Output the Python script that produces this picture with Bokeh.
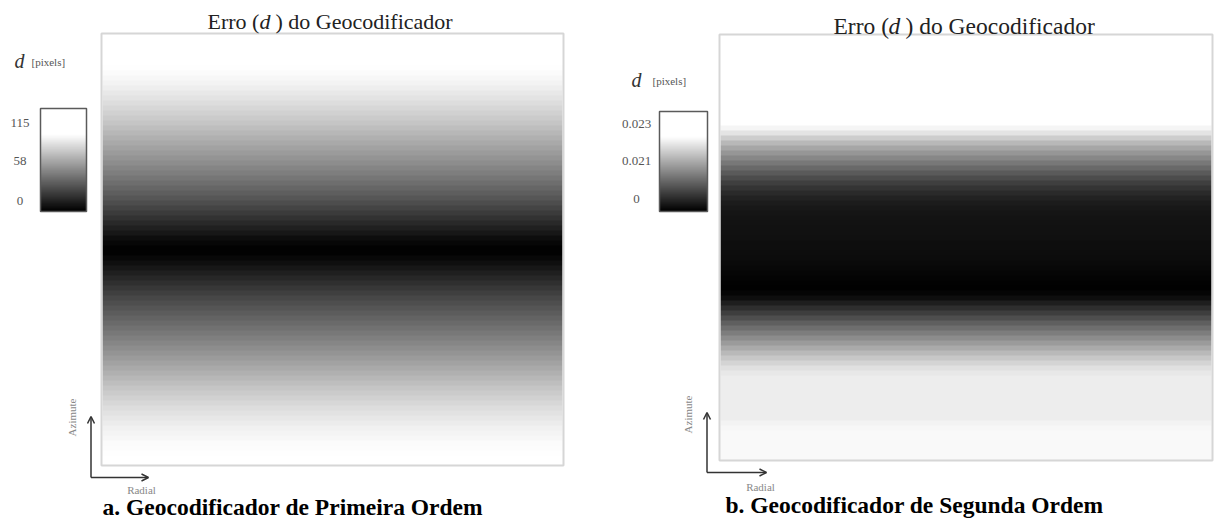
import numpy as np
from bokeh.plotting import figure
from bokeh.models import LinearColorMapper, Arrow, OpenHead, Range1d
from bokeh.core.properties import value
from bokeh.embed import file_html
from bokeh.resources import INLINE

# ---------------- data ----------------
title_parts = ["Erro (", "d", ") do Geocodificador"]
captions = ["a. Geocodificador de Primeira Ordem", "b. Geocodificador de Segunda Ordem"]
legend_unit = "[pixels]"
axis_names = ["Azimute", "Radial"]

# error d [pixels] along the azimuth rows (top -> bottom); constant along the radial direction
d_first = [115, 113, 110, 106, 101, 95,
           85.9, 84.9, 83.5, 81.9, 80.2, 78.5, 76.8, 74.7, 72.7, 70.7, 68.7, 66.6, 64.3,
           61.9, 59.5, 57.2, 54.8, 52.4, 50.1, 47.7, 45.0, 42.6, 39.9, 37.2, 34.5, 31.8,
           29.1, 26.0, 23.0, 20.0, 16.9, 13.9, 10.8, 7.8, 4.7, 2.4, 0.7,
           1.0, 2.7, 5.1, 7.8, 10.5, 13.2, 15.9, 18.6, 21.3, 24.0, 26.4, 28.8, 31.1, 33.5,
           35.9, 38.2, 40.6, 43.0, 45.3, 47.7, 50.1, 52.4, 54.8, 57.2, 59.5, 61.9, 64.3,
           66.6, 68.7, 70.7, 72.7, 74.7, 76.4, 78.1, 79.8, 81.2, 82.5, 83.5, 84.6, 85.2,
           85.9, 87, 89]
d_second = [0.0230, 0.0229, 0.0228, 0.0227, 0.0225, 0.0223, 0.0221, 0.0219, 0.0216,
            0.0213, 0.0210, 0.0206, 0.0202, 0.0198, 0.0193, 0.0188, 0.0183, 0.0178,
            0.01657, 0.01542, 0.01387, 0.01245, 0.01123, 0.01015, 0.00913, 0.00812,
            0.00710, 0.00609, 0.00514, 0.00426, 0.00352, 0.00284, 0.00230, 0.00189,
            0.00162, 0.00142, 0.00129, 0.00122, 0.00115, 0.00115, 0.00108, 0.00101,
            0.00095, 0.00088, 0.00081, 0.00068, 0.00054, 0.00041, 0.00027, 0.00014,
            0.00007, 0.00034, 0.00101, 0.00203, 0.00311, 0.00419, 0.00528, 0.00643,
            0.00744, 0.00846, 0.00947, 0.01049, 0.01150, 0.01251, 0.01346, 0.01434,
            0.01515, 0.01569, 0.01597,
            0.01603, 0.01603, 0.01603, 0.01603, 0.01603, 0.01603, 0.01603, 0.01603,
            0.01644, 0.01671, 0.01678, 0.01678, 0.01678, 0.01678, 0.01678, 0.01678]
d_max = [115.0, 0.023]
ticks_first = ["115", "58", "0"]
ticks_second = ["0.023", "0.021", "0"]

# ---------------- figure (data coords == page pixels, y measured downward) ----------------
W, H = 1220, 522
p = figure(width=W, height=H, x_range=Range1d(0, W), y_range=Range1d(0, H),
           output_backend="svg", toolbar_location=None, min_border=0)
p.axis.visible = False
p.grid.visible = False
p.outline_line_color = None
p.background_fill_color = "white"


def Y(y):
    return H - y


greys = ["#%02x%02x%02x" % (i, i, i) for i in range(256)]
SERIF = value("Liberation Serif")
ROW = 5  # pixel height of one azimuth row

panels = [
    dict(data=d_first, dmax=d_max[0], ticks=ticks_first, img_top=35,
         box=(101, 33, 563, 465), cbar=(40, 108, 86, 211), tick_x=19.5, tick_y=[122, 160, 200],
         leg_d=(14, 60), leg_u=(31, 61), title_x=[207, 259, 275], title_y=21, title_fs="22px",
         origin=(90.5, 477), v_top=416, h_end=148, azi=(71, 417), rad=(141, 489),
         cap=(102, 506)),
    dict(data=d_second, dmax=d_max[1], ticks=ticks_second, img_top=35,
         box=(719, 34, 1212, 460), cbar=(659, 111, 707, 211), tick_x=636, tick_y=[123, 160, 198],
         leg_d=(631, 79), leg_u=(652, 80), title_x=[833, 888, 905], title_y=25, title_fs="23.5px",
         origin=(706.5, 472), v_top=412, h_end=766, azi=(687, 414), rad=(760, 486),
         cap=(725, 504)),
]

for i, pn in enumerate(panels):
    mapper = LinearColorMapper(palette=greys, low=0, high=0.75 * pn["dmax"], high_color="#ffffff")
    x0, y0, x1, y1 = pn["box"]
    img = np.array(pn["data"][::-1], dtype=float).reshape(-1, 1)
    dh = img.shape[0] * ROW
    top = pn["img_top"]
    p.image(image=[img], x=x0 + 1, y=Y(top + dh), dw=(x1 - x0 - 2), dh=dh,
            color_mapper=mapper)
    p.quad(left=[x0], right=[x1], top=[Y(y0)], bottom=[Y(y1)], fill_color=None,
           line_color="#d6d6d6", line_width=2)

    # colour bar
    cx0, cy0, cx1, cy1 = pn["cbar"]
    ramp = np.linspace(0, pn["dmax"], 150).reshape(-1, 1)
    p.image(image=[ramp], x=cx0, y=Y(cy1), dw=cx1 - cx0, dh=cy1 - cy0, color_mapper=mapper)
    p.quad(left=[cx0], right=[cx1], top=[Y(cy0)], bottom=[Y(cy1)], fill_color=None,
           line_color="#5a5a5a", line_width=1.5)
    p.text(x=[pn["tick_x"]] * 3, y=[Y(v) for v in pn["tick_y"]], text=pn["ticks"],
           text_font=SERIF, text_font_size=value("13px"), text_color="#555555",
           text_align="center", text_baseline="middle")

    # legend label
    p.text(x=[pn["leg_d"][0]], y=[Y(pn["leg_d"][1])], text=["d"], text_font=SERIF,
           text_font_style="italic", text_font_size=value("20px"), text_color="#333333",
           text_align="left", text_baseline="middle")
    p.text(x=[pn["leg_u"][0]], y=[Y(pn["leg_u"][1])], text=[legend_unit], text_font=SERIF,
           text_font_size=value("11px"), text_color="#555555",
           text_align="left", text_baseline="middle")

    # title
    tx = pn["title_x"]
    ty = Y(pn["title_y"])
    p.text(x=[tx[0], tx[2]], y=[ty, ty], text=[title_parts[0], title_parts[2]], text_font=SERIF,
           text_font_size=value(pn["title_fs"]), text_color="#222222",
           text_align="left", text_baseline="middle")
    p.text(x=[tx[1]], y=[ty], text=[title_parts[1]], text_font=SERIF, text_font_style="italic",
           text_font_size=value(pn["title_fs"]), text_color="#222222",
           text_align="left", text_baseline="middle")

    # direction arrows
    ox, oy = pn["origin"]
    for xe, ye in [(ox, pn["v_top"]), (pn["h_end"], oy)]:
        p.add_layout(Arrow(end=OpenHead(size=7, line_color="#333333", line_width=1.5),
                           x_start=ox, y_start=Y(oy), x_end=xe, y_end=Y(ye),
                           line_color="#333333", line_width=1.5))
    p.text(x=[pn["azi"][0]], y=[Y(pn["azi"][1])], text=[axis_names[0]], angle=np.pi / 2,
           text_font=SERIF, text_font_size=value("11px"), text_color="#888888",
           text_align="center", text_baseline="middle")
    p.text(x=[pn["rad"][0]], y=[Y(pn["rad"][1])], text=[axis_names[1]],
           text_font=SERIF, text_font_size=value("11px"), text_color="#888888",
           text_align="center", text_baseline="middle")

    # caption
    p.text(x=[pn["cap"][0]], y=[Y(pn["cap"][1])], text=[captions[i]], text_font=SERIF,
           text_font_style="bold", text_font_size=value("23.5px"), text_color="#000000",
           text_align="left", text_baseline="middle")

open("out.html", "w").write(file_html(p, INLINE))
